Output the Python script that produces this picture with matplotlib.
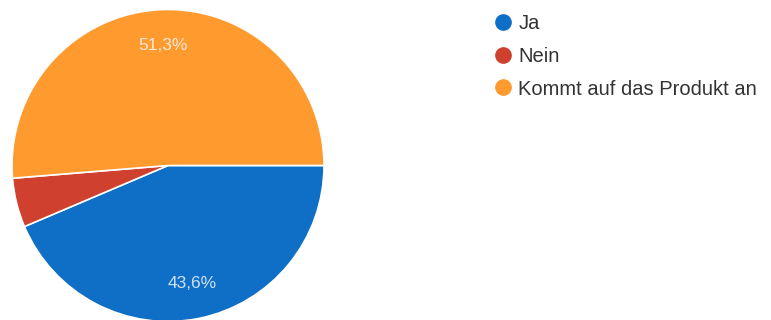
import matplotlib.pyplot as plt
from matplotlib.lines import Line2D

labels = ["Ja", "Nein", "Kommt auf das Produkt an"]
shares = [43.6, 5.1, 51.3]
colors = ["#0f6fc6", "#d0402f", "#ff9a2e"]


def pct_label(p):
    if p < 10:
        return ""
    return f"{p:.1f}%".replace(".", ",")


fig = plt.figure(figsize=(7.71, 3.2), dpi=100)
ax = fig.add_axes([12 / 771, -1.5 / 320, 312 / 771, 312 / 320])
wedges, texts, autotexts = ax.pie(
    shares, colors=colors, startangle=0, counterclock=False,
    autopct=pct_label, pctdistance=0.77,
    wedgeprops=dict(edgecolor="white", linewidth=1.2),
    textprops=dict(color="white", alpha=0.8, fontsize=12.5, family="Liberation Sans"),
)
ax.set_xlim(-1, 1)
ax.set_ylim(-1, 1)
ax.axis("off")

handles = [Line2D([], [], marker="o", linestyle="", markersize=11,
                  markerfacecolor=c, markeredgecolor=c) for c in colors]
fig.legend(handles, labels, loc="upper left", bbox_to_anchor=(473 / 771, 1 + 4 / 320),
           frameon=False, handletextpad=0.15, labelspacing=0.68, handlelength=1.2,
           prop=dict(family="Liberation Sans", size=14.5), labelcolor="#333333")

fig.savefig("out.png", dpi=100)
